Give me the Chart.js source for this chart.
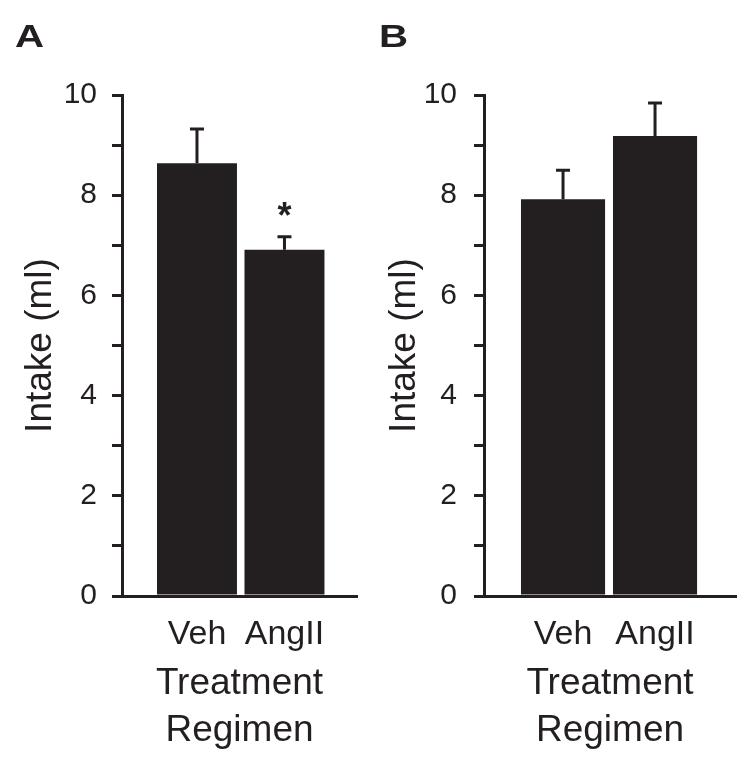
<!DOCTYPE html>
<html>
<head>
<meta charset="utf-8">
<title>Intake by treatment regimen</title>
<script src="https://cdn.jsdelivr.net/npm/chart.js@4.4.0/dist/chart.umd.min.js"></script>
<style>
  body { margin: 0; background: #fff; }
  #wrap { position: relative; width: 752px; height: 768px; }
  canvas { position: absolute; top: 0; }
  #panelA { left: 0; }
  #panelB { left: 376px; }
</style>
</head>
<body>
<div id="wrap">
  <canvas id="panelA" width="376" height="768"></canvas>
  <canvas id="panelB" width="376" height="768"></canvas>
</div>
<script>
// ===== Datos =====
const grupos = ["Veh", "AngII"];
const intakeA = [8.64, 6.91];
const errorA = [0.68, 0.26];
const marcasA = ["", "*"];
const intakeB = [7.92, 9.18];
const errorB = [0.58, 0.66];
const marcasB = ["", ""];
const yMax = 10;
const yPaso = 1;
const tituloY = "Intake (ml)";
const tituloX = ["Treatment", "Regimen"];

const tinta = "#231f20";
const fuente = '"Liberation Sans", Arial, Helvetica, sans-serif';
Chart.defaults.font.family = fuente;
Chart.defaults.color = tinta;

// ===== Barras de error, asterisco y letra del panel =====
const barrasError = {
  id: "barrasError",
  afterDatasetsDraw(chart, args, opts) {
    const ctx = chart.ctx;
    const y = chart.scales.y;
    const meta = chart.getDatasetMeta(0);
    const datos = chart.data.datasets[0].data;
    ctx.save();
    ctx.strokeStyle = tinta;
    ctx.fillStyle = tinta;
    ctx.lineWidth = 3;
    meta.data.forEach((barra, i) => {
      const arriba = y.getPixelForValue(datos[i].y + opts.errores[i]);
      ctx.beginPath();
      ctx.moveTo(barra.x, barra.y);
      ctx.lineTo(barra.x, arriba);
      ctx.moveTo(barra.x - 7, arriba);
      ctx.lineTo(barra.x + 7, arriba);
      ctx.stroke();
      if (opts.marcas[i]) {
        ctx.font = "bold 36px " + fuente;
        ctx.textAlign = "center";
        ctx.textBaseline = "alphabetic";
        ctx.fillText(opts.marcas[i], barra.x, arriba - 9);
      }
    });
    // letra del panel, algo ensanchada como en la figura
    ctx.translate(opts.letraX, 47);
    ctx.scale(1.3, 1);
    ctx.font = "bold 31px " + fuente;
    ctx.textAlign = "left";
    ctx.textBaseline = "alphabetic";
    ctx.fillText(opts.letra, 0, 0);
    ctx.restore();
  }
};

function crearPanel(id, valores, errores, marcas, p) {
  return new Chart(document.getElementById(id), {
    type: "bar",
    data: {
      datasets: [{
        data: valores.map((v, i) => ({ x: i + 1, y: v })),
        backgroundColor: tinta,
        borderWidth: 0,
        categoryPercentage: 1,
        barPercentage: 0.914
      }]
    },
    plugins: [barrasError],
    options: {
      responsive: false,
      animation: false,
      layout: { padding: { left: 0, top: 95, right: p.derecha, bottom: 0 } },
      plugins: {
        legend: { display: false },
        tooltip: { enabled: false },
        barrasError: { errores: errores, marcas: marcas, letra: p.letra, letraX: p.letraX }
      },
      scales: {
        x: {
          type: "linear",
          offset: false,
          min: p.xMin,
          max: p.xMax,
          afterBuildTicks: s => { s.ticks = grupos.map((g, i) => ({ value: i + 1 })); },
          afterFit: s => { s.height = 172; },
          grid: { display: false, drawTicks: false, offset: false },
          border: { display: true, color: tinta, width: 3 },
          ticks: {
            callback: v => grupos[v - 1],
            font: { size: 34 },
            color: tinta,
            padding: 18,
            maxRotation: 0,
            autoSkip: false
          },
          title: {
            display: true,
            text: tituloX,
            font: { size: 37, lineHeight: "47px" },
            color: tinta,
            padding: { top: 0, bottom: 14 }
          }
        },
        y: {
          min: 0,
          max: yMax,
          afterFit: s => { s.width = p.anchoY; },
          grid: { drawOnChartArea: false, drawTicks: true, tickLength: 10, lineWidth: 3, color: tinta },
          border: { display: true, color: tinta, width: 3 },
          ticks: {
            stepSize: yPaso,
            autoSkip: false,
            callback: v => (v % 2 === 0 ? v : ""),
            font: { size: 30 },
            color: tinta,
            padding: p.padTicks
          },
          title: {
            display: true,
            text: tituloY,
            font: { size: 37 },
            color: tinta,
            padding: { top: p.padTitulo, bottom: 0 }
          }
        }
      }
    }
  });
}

crearPanel("panelA", intakeA, errorA, marcasA,
  { letra: "A", letraX: 15, derecha: 19, anchoY: 122, padTicks: 15, padTitulo: 19, xMin: 0.143, xMax: 2.829 });
crearPanel("panelB", intakeB, errorB, marcasB,
  { letra: "B", letraX: 3, derecha: 16, anchoY: 108, padTicks: 17, padTitulo: 7, xMin: 0.141, xMax: 2.880 });
</script>
</body>
</html>
